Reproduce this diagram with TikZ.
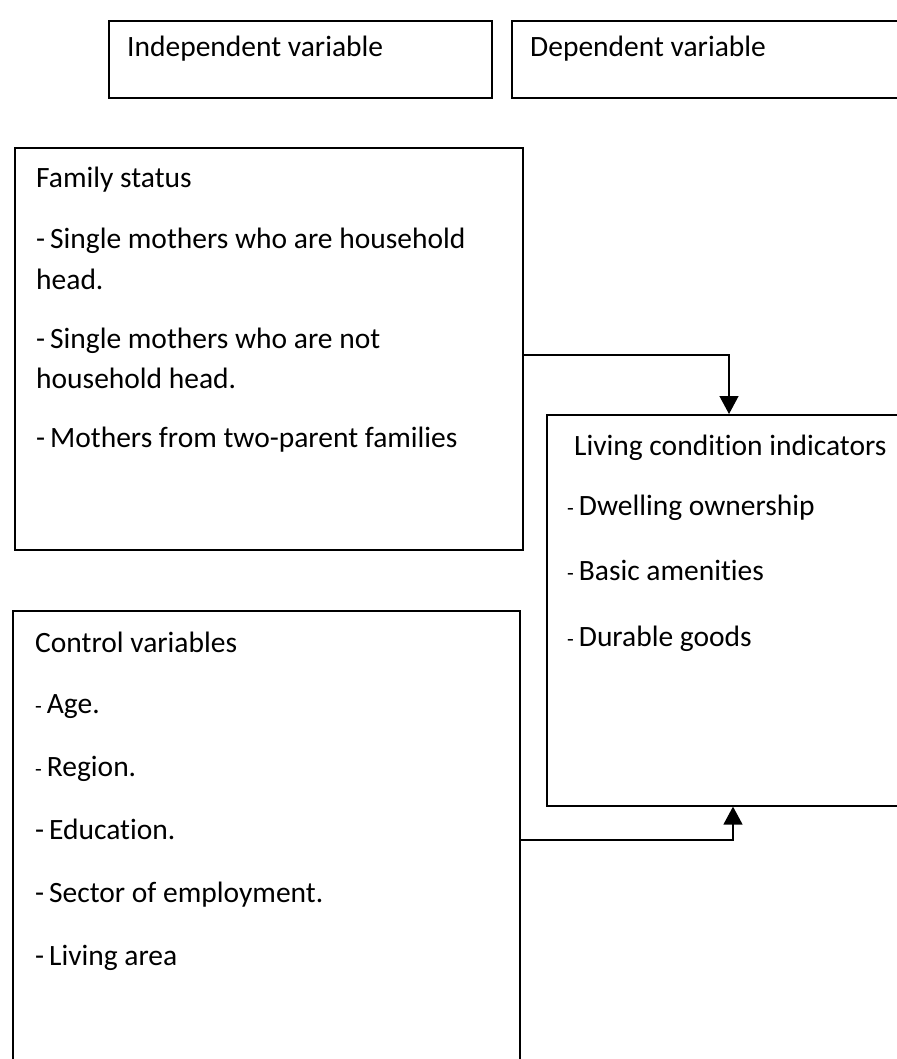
\documentclass[tikz,border=0pt]{standalone}
\usepackage{fontspec}
\setmainfont[Ligatures=NoCommon]{Carlito}
\usetikzlibrary{arrows.meta}
\tikzstyle{box} = [draw,line width=1.6pt,rectangle,anchor=north west,inner sep=0pt]
\tikzstyle{txt} = [anchor=base west,inner sep=0pt,font=\fontsize{29.5}{34}\selectfont]
\tikzstyle{link} = [draw,line width=1.4pt,-{Triangle[length=18pt,width=19pt]}]
\newcommand{\sdash}{{\fontsize{22}{24}\selectfont-}\,}

\begin{document}
\begin{tikzpicture}[x=1pt,y=-1pt]

    \useasboundingbox (0,0) rectangle (896,1059);

    % headings
    \node[box,minimum width=383pt,minimum height=77pt] (indep) at (108,20) {};
    \node[box,minimum width=420pt,minimum height=77pt] (dep) at (511,20) {};
    \node[txt] (indeptxt) at (127,57) {Independent variable};
    \node[txt] (deptxt) at (530,57) {Dependent variable};

    % family status
    \node[box,minimum width=508pt,minimum height=402pt] (fam) at (14,147) {};
    \node[txt] (fam1) at (36,188) {Family status};
    \node[txt] (fam2) at (36,248) {-\,Single mothers who are household};
    \node[txt] (fam3) at (36,289) {head.};
    \node[txt] (fam4) at (36,348) {-\,Single mothers who are not};
    \node[txt] (fam5) at (36,388) {household head.};
    \node[txt] (fam6) at (36,447) {-\,Mothers from two-parent families};

    % living condition
    \node[box,minimum width=380pt,minimum height=391pt] (liv) at (546,414) {};
    \node[txt] (liv1) at (574,455) {Living condition indicators};
    \node[txt] (liv2) at (567,515) {\sdash Dwelling ownership};
    \node[txt] (liv3) at (567,580) {\sdash Basic amenities};
    \node[txt] (liv4) at (567,646) {\sdash Durable goods};

    % control variables
    \node[box,minimum width=507pt,minimum height=480pt] (ctl) at (12,610) {};
    \node[txt] (ctl1) at (35,652) {Control variables};
    \node[txt] (ctl2) at (35,713) {\sdash Age.};
    \node[txt] (ctl3) at (35,776) {\sdash Region.};
    \node[txt] (ctl4) at (35,839) {-\,Education.};
    \node[txt] (ctl5) at (35,902) {-\,Sector of employment.};
    \node[txt] (ctl6) at (35,965) {-\,Living area};

    \coordinate (c1) at (729,355);
    \coordinate (c2) at (733,840);
    \draw[link] (fam.east |- c1) -- (c1) -- (c1 |- liv.north);
    \draw[link] (ctl.east |- c2) -- (c2) -- (c2 |- liv.south);

\end{tikzpicture}
\end{document}
